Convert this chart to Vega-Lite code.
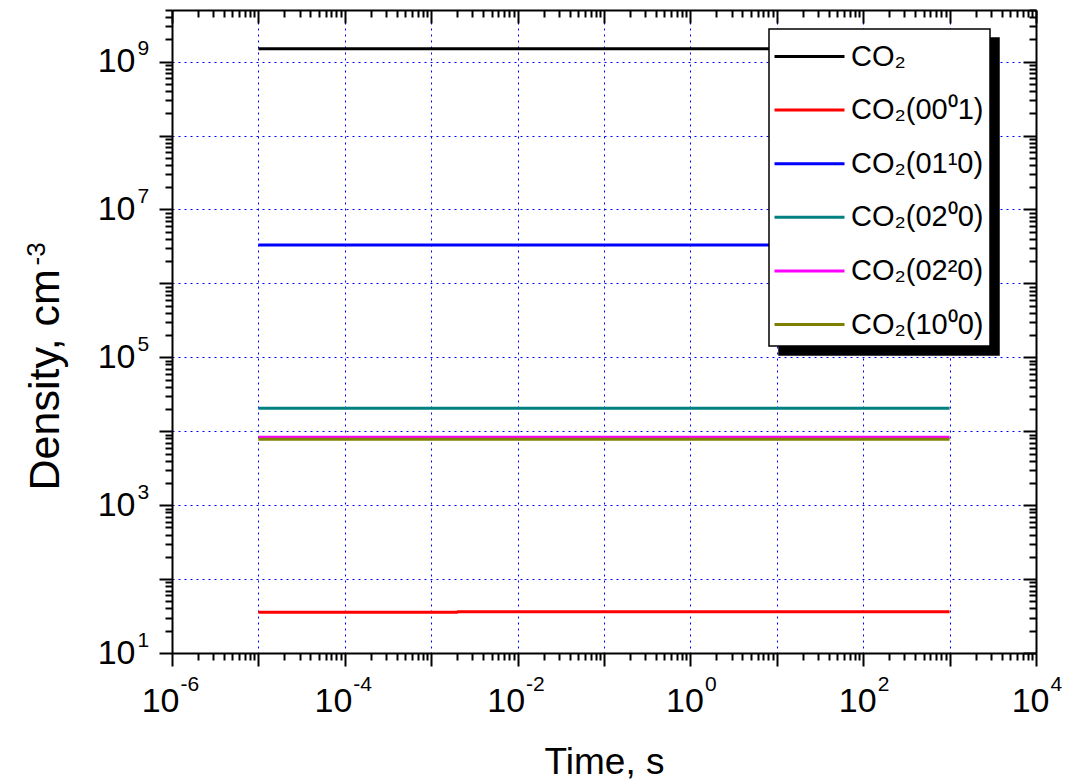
{
  "$schema": "https://vega.github.io/schema/vega-lite/v6.json",
  "autosize": "none",
  "width": 864,
  "height": 643,
  "padding": {"left": 172, "top": 10, "right": 32, "bottom": 131},
  "background": "white",
  "data": {
    "values": [
      {"series": "CO₂", "t": 1e-5, "n": 1.49e9},
      {"series": "CO₂", "t": 1000, "n": 1.49e9},
      {"series": "CO₂(00⁰1)", "t": 1e-5, "n": 35.7},
      {"series": "CO₂(00⁰1)", "t": 2e-3, "n": 35.7},
      {"series": "CO₂(00⁰1)", "t": 2.05e-3, "n": 36.2},
      {"series": "CO₂(00⁰1)", "t": 1000, "n": 36.2},
      {"series": "CO₂(01¹0)", "t": 1e-5, "n": 3.32e6},
      {"series": "CO₂(01¹0)", "t": 1000, "n": 3.32e6},
      {"series": "CO₂(02⁰0)", "t": 1e-5, "n": 20500},
      {"series": "CO₂(02⁰0)", "t": 1000, "n": 20500},
      {"series": "CO₂(02²0)", "t": 1e-5, "n": 8300},
      {"series": "CO₂(02²0)", "t": 1000, "n": 8300},
      {"series": "CO₂(10⁰0)", "t": 1e-5, "n": 7800},
      {"series": "CO₂(10⁰0)", "t": 1000, "n": 7800}
    ]
  },
  "layer": [
    {
      "mark": {"type": "line", "strokeWidth": 3},
      "encoding": {
        "x": {
          "field": "t", "type": "quantitative",
          "scale": {"type": "log", "domain": [1e-6, 10000], "nice": false},
          "axis": {
            "orient": "bottom",
            "title": "Time, s",
            "titlePadding": 26,
            "titleFontSize": 37,
            "values": [1e-6,2e-6,3e-6,4e-6,5e-6,6e-6,7e-6,8e-6,9e-6,1e-5,2e-5,3e-5,4e-5,5e-5,6e-5,7e-5,8e-5,9e-5,1e-4,2e-4,3e-4,4e-4,5e-4,6e-4,7e-4,8e-4,9e-4,1e-3,2e-3,3e-3,4e-3,5e-3,6e-3,7e-3,8e-3,9e-3,1e-2,2e-2,3e-2,4e-2,5e-2,6e-2,7e-2,8e-2,9e-2,0.1,0.2,0.3,0.4,0.5,0.6,0.7,0.8,0.9,1,2,3,4,5,6,7,8,9,10,20,30,40,50,60,70,80,90,100,200,300,400,500,600,700,800,900,1000,2000,3000,4000,5000,6000,7000,8000,9000,10000],
            "labelExpr": "(abs(log(datum.value)/LN10 - round(log(datum.value)/LN10)) < 1e-6 && abs(round(log(datum.value)/LN10)) % 2 == 0) ? '10' : ''",
            "labelAlign": "right",
            "labelOffset": {"condition": {"test": "datum.value < 1", "value": 7}, "value": 13},
            "labelOverlap": false,
            "labelFlush": false,
            "labelBound": false,
            "labelPadding": 18,
            "tickSize": {"condition": {"test": "abs(log(datum.value)/LN10 - round(log(datum.value)/LN10)) < 1e-6", "value": 13}, "value": 7},
            "grid": true,
            "gridOpacity": {"condition": {"test": "abs(log(datum.value)/LN10 - round(log(datum.value)/LN10)) < 1e-6", "value": 1}, "value": 0}
          }
        },
        "y": {
          "field": "n", "type": "quantitative",
          "scale": {"type": "log", "domain": [10, 5e9], "nice": false},
          "axis": {
            "orient": "left",
            "title": "Density, cm",
            "titleFontSize": 43,
            "titleAngle": -90,
            "titleAlign": "left",
            "titleBaseline": "alphabetic",
            "titleX": -114,
            "titleY": 480,
            "values": [10,20,30,40,50,60,70,80,90,100,200,300,400,500,600,700,800,900,1000,2000,3000,4000,5000,6000,7000,8000,9000,1e4,2e4,3e4,4e4,5e4,6e4,7e4,8e4,9e4,1e5,2e5,3e5,4e5,5e5,6e5,7e5,8e5,9e5,1e6,2e6,3e6,4e6,5e6,6e6,7e6,8e6,9e6,1e7,2e7,3e7,4e7,5e7,6e7,7e7,8e7,9e7,1e8,2e8,3e8,4e8,5e8,6e8,7e8,8e8,9e8,1e9,2e9,3e9,4e9,5e9],
            "labelExpr": "(abs(log(datum.value)/LN10 - round(log(datum.value)/LN10)) < 1e-6 && abs(round(log(datum.value)/LN10)) % 2 == 1) ? '10' : ''",
            "labelOverlap": false,
            "labelFlush": false,
            "labelBound": false,
            "labelPadding": 24,
            "tickSize": {"condition": {"test": "abs(log(datum.value)/LN10 - round(log(datum.value)/LN10)) < 1e-6", "value": 13}, "value": 7},
            "grid": true,
            "gridOpacity": {"condition": {"test": "abs(log(datum.value)/LN10 - round(log(datum.value)/LN10)) < 1e-6", "value": 1}, "value": 0}
          }
        },
        "color": {
          "field": "series", "type": "nominal",
          "scale": {
            "domain": ["CO₂", "CO₂(00⁰1)", "CO₂(01¹0)", "CO₂(02⁰0)", "CO₂(02²0)", "CO₂(10⁰0)"],
            "range": ["#000000", "#ff0000", "#0000ff", "#008080", "#ff00ff", "#808000"]
          },
          "legend": {
            "orient": "none", "legendX": 597, "legendY": 19, "zindex": 2,
            "title": null, "padding": 6,
            "fillColor": "white", "strokeColor": "black",
            "symbolType": "M-1.75,0L1.75,0", "symbolSize": 1600, "symbolStrokeWidth": 3,
            "symbolOffset": 13, "labelOffset": 20, "rowPadding": 16.6,
            "labelFontSize": 29, "labelFont": "Liberation Sans", "labelColor": "black", "labelLimit": 300
          }
        },
        "opacity": {
          "field": "series", "type": "nominal",
          "scale": {"type": "ordinal", "range": [1, 1, 1, 1, 1, 1]},
          "legend": {
            "orient": "none", "legendX": 607, "legendY": 28, "zindex": 1,
            "title": null, "padding": 6,
            "fillColor": "black", "strokeColor": "black",
            "symbolType": "M-1.75,0L1.75,0", "symbolSize": 1600, "symbolStrokeWidth": 3,
            "symbolStrokeColor": "black", "symbolFillColor": "black",
            "symbolOffset": 13, "labelOffset": 152, "rowPadding": 16.6,
            "labelExpr": "''",
            "labelFontSize": 29, "labelFont": "Liberation Sans", "labelColor": "black", "labelLimit": 300
          }
        }
      }
    },
    {
      "mark": {"type": "line", "strokeOpacity": 0},
      "encoding": {
        "x": {
          "field": "t", "type": "quantitative",
          "scale": {"type": "log", "domain": [1e-6, 10000], "nice": false},
          "axis": {
            "orient": "top", "title": null, "labels": false, "grid": false,
            "values": [1e-6,2e-6,3e-6,4e-6,5e-6,6e-6,7e-6,8e-6,9e-6,1e-5,2e-5,3e-5,4e-5,5e-5,6e-5,7e-5,8e-5,9e-5,1e-4,2e-4,3e-4,4e-4,5e-4,6e-4,7e-4,8e-4,9e-4,1e-3,2e-3,3e-3,4e-3,5e-3,6e-3,7e-3,8e-3,9e-3,1e-2,2e-2,3e-2,4e-2,5e-2,6e-2,7e-2,8e-2,9e-2,0.1,0.2,0.3,0.4,0.5,0.6,0.7,0.8,0.9,1,2,3,4,5,6,7,8,9,10,20,30,40,50,60,70,80,90,100,200,300,400,500,600,700,800,900,1000,2000,3000,4000,5000,6000,7000,8000,9000,10000],
            "tickSize": {"condition": {"test": "abs(log(datum.value)/LN10 - round(log(datum.value)/LN10)) < 1e-6", "value": -13}, "value": -7}
          }
        },
        "y": {
          "field": "n", "type": "quantitative",
          "scale": {"type": "log", "domain": [10, 5e9], "nice": false},
          "axis": {
            "orient": "right", "title": null, "labels": false, "grid": false,
            "values": [10,20,30,40,50,60,70,80,90,100,200,300,400,500,600,700,800,900,1000,2000,3000,4000,5000,6000,7000,8000,9000,1e4,2e4,3e4,4e4,5e4,6e4,7e4,8e4,9e4,1e5,2e5,3e5,4e5,5e5,6e5,7e5,8e5,9e5,1e6,2e6,3e6,4e6,5e6,6e6,7e6,8e6,9e6,1e7,2e7,3e7,4e7,5e7,6e7,7e7,8e7,9e7,1e8,2e8,3e8,4e8,5e8,6e8,7e8,8e8,9e8,1e9,2e9,3e9,4e9,5e9],
            "tickSize": {"condition": {"test": "abs(log(datum.value)/LN10 - round(log(datum.value)/LN10)) < 1e-6", "value": -13}, "value": -7}
          }
        },
        "detail": {"field": "series", "type": "nominal"}
      }
    },
    {
      "mark": {"type": "line", "strokeOpacity": 0},
      "encoding": {
        "x": {
          "field": "t", "type": "quantitative",
          "scale": {"type": "log", "domain": [1e-6, 10000], "nice": false},
          "axis": {
            "orient": "bottom", "title": null, "grid": false, "domain": false, "ticks": false,
            "values": [1e-6, 1e-4, 1e-2, 1, 100, 10000],
            "labelExpr": "(datum.value < 1 ? '-' : '') + abs(round(log(datum.value)/LN10))",
            "labelAlign": "left",
            "labelOffset": {"condition": {"test": "datum.value < 1", "value": 8}, "value": 14},
            "labelPadding": 20,
            "labelFontSize": 21,
            "labelOverlap": false, "labelFlush": false, "labelBound": false
          }
        },
        "y": {
          "field": "n", "type": "quantitative",
          "scale": {"type": "log", "domain": [10, 5e9], "nice": false},
          "axis": {
            "orient": "left",
            "title": "-3",
            "titleFontSize": 26,
            "titleAngle": -90,
            "titleAlign": "left",
            "titleBaseline": "alphabetic",
            "titleX": -128,
            "titleY": 255,
            "grid": false, "domain": false, "ticks": false,
            "values": [10, 1000, 1e5, 1e7, 1e9],
            "labelExpr": "'' + round(log(datum.value)/LN10)",
            "labelAlign": "left",
            "labelOffset": -13,
            "labelPadding": 35,
            "labelFontSize": 21,
            "labelOverlap": false, "labelFlush": false, "labelBound": false
          }
        },
        "detail": {"field": "series", "type": "nominal"}
      }
    }
  ],
  "resolve": {"axis": {"x": "independent", "y": "independent"}},
  "config": {
    "view": {"stroke": null},
    "font": "Liberation Sans",
    "legend": {"strokeWidth": 1.5},
    "axis": {
      "domainColor": "black", "domainWidth": 2,
      "tickColor": "black", "tickWidth": 2,
      "labelColor": "black", "titleColor": "black",
      "labelFont": "Liberation Sans", "titleFont": "Liberation Sans",
      "labelFontSize": 34, "titleFontSize": 36, "titleFontWeight": "normal",
      "gridColor": "#0000ff", "gridDash": [2, 4], "gridWidth": 1
    }
  }
}
